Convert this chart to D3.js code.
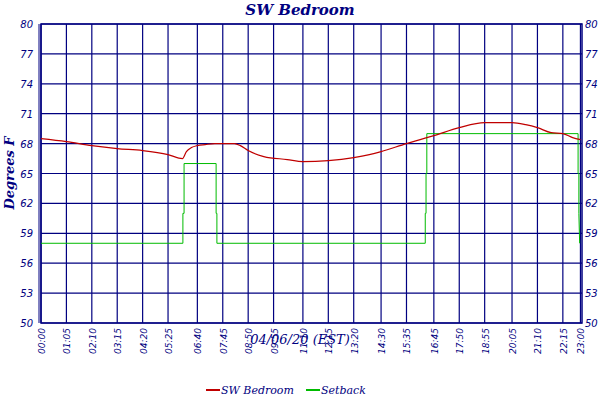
<!DOCTYPE html>
<html><head><meta charset="utf-8">
<script src="https://cdn.jsdelivr.net/npm/d3@7"></script>
<style>body{margin:0;background:#fff}</style>
</head><body>
<div id="chart"></div>
<script>
const width = 600, height = 400;
const navy = "#000080";

// minutes since midnight
const xTicks = [0,65,130,195,260,325,400,465,530,595,670,735,800,870,935,1005,1070,1135,1205,1270,1335,1380];
const yTicks = [50,53,56,59,62,65,68,71,74,77,80];

const tempTimes = [0,65,130,195,260,325,362,372,385,400,420,445,470,495,510,530,570,630,670,735,800,840,870,935,970,1005,1070,1135,1205,1240,1270,1305,1335,1360,1380];
const tempVals  = [68.5,68.2,67.8,67.5,67.3,66.9,66.5,67.2,67.6,67.8,67.9,68,68,68,67.8,67.3,66.7,66.4,66.2,66.3,66.6,66.9,67.2,68.0,68.4,68.8,69.6,70.1,70.1,69.9,69.6,69.1,69.0,68.6,68.4];

const setTimes = [0,363,363,366,366,448,448,450,450,983,983,985,985,987,987,1374,1374,1376,1376,1378];
const setVals  = [58,58,61,61,66,66,61,61,58,58,61,61,65,65,69,69,65,65,61,58];

const margin = {left: 41, right: 18, top: 24, bottom: 77};

const svg = d3.select("#chart").append("svg")
  .attr("width", width).attr("height", height);

const x = d3.scaleLinear().domain([0, 1384]).range([margin.left, width - margin.right]);
const y = d3.scaleLinear().domain([50, 80]).range([height - margin.bottom, margin.top]);

const fmt = m => d3.format("02")(Math.floor(m / 60)) + ":" + d3.format("02")(m % 60);

// grid
svg.append("g").selectAll("line").data(yTicks).join("line")
  .attr("x1", x(0)).attr("x2", x(1384))
  .attr("y1", d => y(d)).attr("y2", d => y(d))
  .attr("stroke", navy).attr("stroke-width", 1.2);
svg.append("g").selectAll("line").data(xTicks).join("line")
  .attr("x1", d => x(d)).attr("x2", d => x(d))
  .attr("y1", y(50)).attr("y2", y(80))
  .attr("stroke", navy).attr("stroke-width", 1.2);
svg.append("rect").attr("x", x(0)).attr("y", y(80))
  .attr("width", x(1384) - x(0)).attr("height", y(50) - y(80))
  .attr("fill", "none").attr("stroke", navy).attr("stroke-width", 1.5);
svg.append("line").attr("x1", x(0) - 2).attr("x2", x(0) - 2)
  .attr("y1", y(80)).attr("y2", y(50)).attr("stroke", navy).attr("stroke-width", 1);

// y labels both sides
const tickFont = "DejaVu Sans";
svg.append("g").selectAll("text").data(yTicks).join("text")
  .attr("x", x(0) - 8).attr("y", d => y(d) + 4).attr("text-anchor", "end")
  .attr("font-family", tickFont).attr("font-style", "italic").attr("font-size", 10)
  .attr("fill", navy).text(d => d);
svg.append("g").selectAll("text").data(yTicks).join("text")
  .attr("x", x(1384) + 3).attr("y", d => y(d) + 4)
  .attr("font-family", tickFont).attr("font-style", "italic").attr("font-size", 10)
  .attr("fill", navy).text(d => d);

// x labels rotated
svg.append("g").selectAll("text").data(xTicks).join("text")
  .attr("transform", d => `translate(${x(d) + 4},${y(50) + 5}) rotate(-90)`)
  .attr("text-anchor", "end")
  .attr("font-family", tickFont).attr("font-style", "italic").attr("font-size", 9)
  .attr("fill", navy).text(fmt);

// lines
svg.append("path").datum(d3.zip(setTimes, setVals))
  .attr("d", d3.line().x(d => x(d[0])).y(d => y(d[1])))
  .attr("fill", "none").attr("stroke", "#00bb00").attr("stroke-width", 1);
svg.append("path").datum(d3.zip(tempTimes, tempVals))
  .attr("d", d3.line().x(d => x(d[0])).y(d => y(d[1])).curve(d3.curveMonotoneX))
  .attr("fill", "none").attr("stroke", "#c00000").attr("stroke-width", 1.2);

// titles
const serif = "DejaVu Serif";
svg.append("text").attr("x", 300).attr("y", 15).attr("text-anchor", "middle")
  .attr("font-family", serif).attr("font-style", "italic").attr("font-weight", "bold").attr("font-size", 15)
  .attr("fill", navy).text("SW Bedroom");
svg.append("text").attr("x", 300).attr("y", 344).attr("text-anchor", "middle")
  .attr("font-family", serif).attr("font-style", "italic").attr("font-size", 13)
  .attr("fill", navy).text("04/06/20 (EST)");
svg.append("text").attr("transform", "translate(14,173) rotate(-90)").attr("text-anchor", "middle")
  .attr("font-family", serif).attr("font-style", "italic").attr("font-weight", "bold").attr("font-size", 13)
  .attr("fill", navy).text("Degrees F");

// legend
const legend = [["SW Bedroom", "#c00000", 206], ["Setback", "#00bb00", 306]];
const lg = svg.append("g").selectAll("g").data(legend).join("g")
  .attr("transform", d => `translate(${d[2]},390)`);
lg.append("line").attr("x1", 0).attr("x2", 14).attr("y1", 0).attr("y2", 0)
  .attr("stroke", d => d[1]).attr("stroke-width", 2);
lg.append("text").attr("x", 15).attr("y", 4)
  .attr("font-family", serif).attr("font-style", "italic").attr("font-size", 11)
  .attr("fill", navy).text(d => d[0]);
</script>
</body></html>
